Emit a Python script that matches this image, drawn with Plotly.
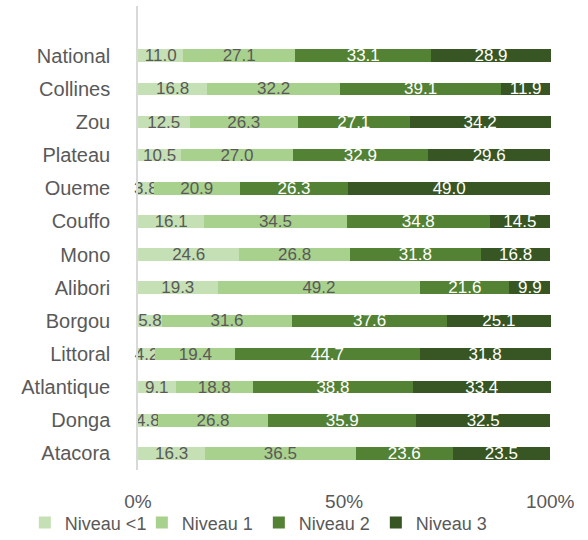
import plotly.graph_objects as go

categories = ["National", "Collines", "Zou", "Plateau", "Oueme", "Couffo", "Mono",
              "Alibori", "Borgou", "Littoral", "Atlantique", "Donga", "Atacora"]
niveau_lt1 = [11.0, 16.8, 12.5, 10.5, 3.8, 16.1, 24.6, 19.3, 5.8, 4.2, 9.1, 4.8, 16.3]
niveau_1 = [27.1, 32.2, 26.3, 27.0, 20.9, 34.5, 26.8, 49.2, 31.6, 19.4, 18.8, 26.8, 36.5]
niveau_2 = [33.1, 39.1, 27.1, 32.9, 26.3, 34.8, 31.8, 21.6, 37.6, 44.7, 38.8, 35.9, 23.6]
niveau_3 = [28.9, 11.9, 34.2, 29.6, 49.0, 14.5, 16.8, 9.9, 25.1, 31.8, 33.4, 32.5, 23.5]
tick_vals = [0, 50, 100]
tick_text = ["0%", "50%", "100%"]

series = [
    ("Niveau <1", niveau_lt1, "#C5E0B4", "#595959"),
    ("Niveau 1", niveau_1, "#A9D18E", "#595959"),
    ("Niveau 2", niveau_2, "#548235", "#FFFFFF"),
    ("Niveau 3", niveau_3, "#375623", "#FFFFFF"),
]

FONT = "Liberation Sans"
fig = go.Figure()
for name, vals, color, tcolor in series:
    fig.add_trace(go.Bar(
        y=categories, x=vals, name=name, orientation="h",
        marker=dict(color=color, line=dict(width=0)),
        text=[f"{v:.1f}" for v in vals],
        textposition="inside", insidetextanchor="middle",
        constraintext="none",
        textfont=dict(color=tcolor, size=17, family=FONT),
        cliponaxis=False,
    ))

fig.update_layout(
    barmode="stack", bargap=0.62,
    width=588, height=540,
    margin=dict(l=138, r=37, t=6, b=70, autoexpand=False),
    paper_bgcolor="white", plot_bgcolor="white",
    font=dict(family=FONT, color="#595959", size=18),
    legend=dict(orientation="h",
                x=-0.274, xanchor="left", y=-0.114, yanchor="middle",
                font=dict(size=18, color="#595959"), traceorder="normal",
                itemwidth=30, entrywidth=72, entrywidthmode="pixels",
                bgcolor="rgba(0,0,0,0)"),
    uniformtext=dict(mode=False),
)
fig.update_xaxes(range=[0, 100.2], tickvals=tick_vals, ticktext=tick_text,
                 showgrid=False, zeroline=False, showline=False,
                 tickfont=dict(size=19, color="#595959"), ticks="",
                 ticklabelstandoff=18)
fig.update_yaxes(type="category", range=[12.5, -1.5], showgrid=False,
                 showline=True, linecolor="#D9D9D9", linewidth=1.5,
                 ticks="", ticklabelstandoff=22,
                 tickfont=dict(size=20, color="#595959"))

fig.write_html("out.html")
